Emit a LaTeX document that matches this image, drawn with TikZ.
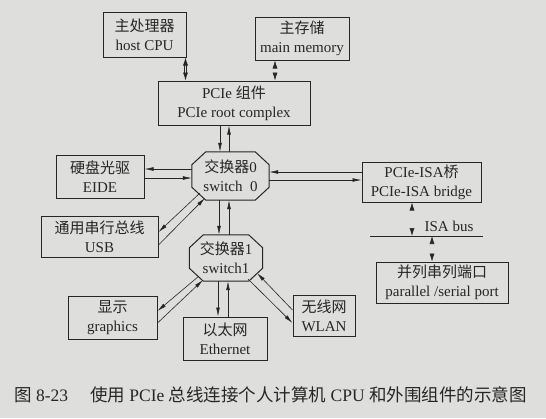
\documentclass[tikz,border=0pt]{standalone}
\usepackage{fontspec}
\setmainfont{Liberation Serif}
\newfontfamily\cjk{Noto Sans CJK SC}
\newcommand{\zh}[1]{{\cjk #1}}
\usepackage{xcolor}
\definecolor{ink}{RGB}{38,38,38}
\definecolor{paper}{RGB}{222,222,220}
\usetikzlibrary{arrows.meta,calc}

\begin{document}
\begin{tikzpicture}[x=1pt,y=-1pt,
        unit/.style={draw=ink, line width=1pt, inner sep=0pt, align=center, text=ink, font=\fontsize{15}{19}\selectfont},
        hub/.style={inner sep=0pt, align=center, text=ink, font=\fontsize{15}{19}\selectfont},
        link/.style={-{Latex[length=9pt,width=3.8pt]}, line width=0.6pt, color=ink},
        duplex/.style={{Latex[length=8pt,width=5pt]}-{Latex[length=8pt,width=5pt]}, line width=0.6pt, double=paper, double distance=1.2pt, color=ink}
    ]
        \fill[paper] (0,0) rectangle (546,418);
        \useasboundingbox (0,0) rectangle (546,418);

        \node[unit, minimum width=83, minimum height=45] (cpu) at (144.5,34.5) {\zh{主处理器}\\host CPU};
        \node[unit, minimum width=94, minimum height=43] (mem) at (302,38.5) {\zh{主存储}\\main memory};
        \node[unit, minimum width=152, minimum height=44] (root) at (234,103) {PCIe \zh{组件}\\PCIe root complex};
        \node[hub, minimum width=77, minimum height=48] (sw0) at (230.5,176) {\zh{交换器}0\\switch\ \ 0};
        \node[hub, minimum width=73, minimum height=46] (sw1) at (226,258) {\zh{交换器}1\\switch1};
        \node[unit, minimum width=88, minimum height=43] (eide) at (100,176.5) {\zh{硬盘光驱}\\EIDE};
        \node[unit, minimum width=117, minimum height=41] (usb) at (99.5,236.5) {\zh{通用串行总线}\\USB};
        \node[unit, minimum width=119, minimum height=40] (bridge) at (421.5,182) {PCIe-ISA\zh{桥}\\PCIe-ISA bridge};
        \node[unit, minimum width=132, minimum height=41] (port) at (442,282.5) {\zh{并列串列端口}\\parallel /serial port};
        \node[unit, minimum width=89, minimum height=43] (gfx) at (112.5,317.5) {\zh{显示}\\graphics};
        \node[unit, minimum width=84, minimum height=43] (eth) at (225,338.5) {\zh{以太网}\\Ethernet};
        \node[unit, minimum width=62, minimum height=41] (wlan) at (324,315.5) {\zh{无线网}\\WLAN};

        % octagonal switches
        \foreach \s in {sw0,sw1}
            \draw[ink, line width=1pt] ([shift={(14,0)}]\s.north west) -- ([shift={(-14,0)}]\s.north east)
                -- ([shift={(0,13)}]\s.north east) -- ([shift={(0,-13)}]\s.south east)
                -- ([shift={(-14,0)}]\s.south east) -- ([shift={(14,0)}]\s.south west)
                -- ([shift={(0,-13)}]\s.south west) -- ([shift={(0,13)}]\s.north west) -- cycle;

        % ISA bus
        \coordinate (busL) at (370,236);
        \coordinate (busR) at (483,236);
        \draw[ink, line width=1pt] (busL) -- (busR);
        \node[hub] (isa) at (449,226) {ISA bus};

        \draw[duplex] ([shift={(-1,0)}]cpu.south east) -- ([shift={(-1,0)}]cpu.south east |- root.north);
        \draw[duplex] ([shift={(-27,0)}]mem.south) -- ([shift={(-27,0)}]mem.south |- root.north);
        \draw[duplex] ([shift={(-9.5,0)}]bridge.south) -- ([shift={(-9.5,0)}]bridge.south |- busL);
        \draw[duplex] ([shift={(-10,0)}]port.north |- busL) -- ([shift={(-10,0)}]port.north);

        \draw[link] ([shift={(-14,0)}]root.south) -- ([shift={(-14,0)}]root.south |- sw0.north);
        \draw[link] ([shift={(-5,0)}]root.south |- sw0.north) -- ([shift={(-5,0)}]root.south);
        \draw[link] ([shift={(-11.5,0)}]sw0.south) -- ([shift={(-11.5,0)}]sw0.south |- sw1.north);
        \draw[link] ([shift={(-1.5,0)}]sw0.south |- sw1.north) -- ([shift={(-1.5,0)}]sw0.south);
        \draw[link] ([shift={(0,-7)}]sw0.west) -- ([shift={(0,-7)}]sw0.west -| eide.east);
        \draw[link] ([shift={(0,2)}]sw0.west -| eide.east) -- ([shift={(0,2)}]sw0.west);
        \draw[link] ([shift={(0,-10)}]bridge.west) -- ([shift={(0,-10)}]bridge.west -| sw0.east);
        \draw[link] ([shift={(0,-2)}]bridge.west -| sw0.east) -- ([shift={(0,-2)}]bridge.west);
        \draw[link] ([shift={(-30.5,17)}]sw0.center) -- ([shift={(0,-4.5)}]usb.east);
        \draw[link] ([shift={(0,8.5)}]usb.east) -- ([shift={(-25.5,22)}]sw0.center);
        \draw[link] ([shift={(-27,18)}]sw1.center) -- ([shift={(0,-6.5)}]gfx.east);
        \draw[link] ([shift={(0,5.5)}]gfx.east) -- ([shift={(-23,22)}]sw1.center);
        \draw[link] ([shift={(-8,0)}]sw1.south) -- ([shift={(-8,0)}]sw1.south |- eth.north);
        \draw[link] ([shift={(2,0)}]sw1.south |- eth.north) -- ([shift={(2,0)}]sw1.south);
        \draw[link] ([shift={(22,21)}]sw1.center) -- ([shift={(0,7.5)}]wlan.west);
        \draw[link] ([shift={(0,-5.5)}]wlan.west) -- ([shift={(31,15)}]sw1.center);

        \node[hub, anchor=west, font=\fontsize{17.5}{20}\selectfont] (caption) at (14,395)
            {\zh{图} 8-23\quad\ \zh{使用} PCIe \zh{总线连接个人计算机} CPU \zh{和外围组件的示意图}};
    \end{tikzpicture}
\end{document}
